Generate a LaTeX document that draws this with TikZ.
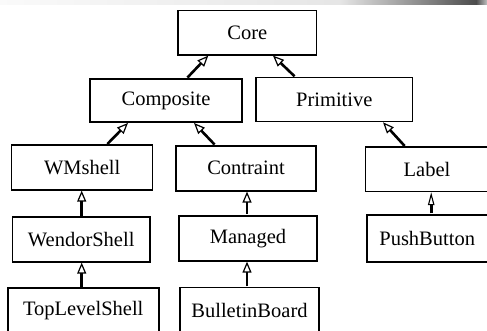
\documentclass[tikz,border=0pt]{standalone}
\usepackage{fontspec}
\setmainfont{Liberation Serif}
\usetikzlibrary{arrows.meta}
\tikzset{
  cls/.style={draw, line width=1.2pt, inner sep=0pt, fill=white,
    font=\fontsize{20.5}{24}\selectfont},
  clsthick/.style={cls, line width=1.9pt},
  inh/.style={line width=2.6pt, -{Triangle[open, length=11pt, width=9pt, line width=1.2pt]}, shorten <=0.6pt},
  inhsmall/.style={line width=2.6pt, -{Triangle[open, length=13pt, width=6.5pt, line width=1.1pt]}, shorten <=0.6pt}
}
\begin{document}
\begin{tikzpicture}[x=1pt, y=-1pt]
\useasboundingbox (0,0) rectangle (487,331);
\clip (0,0) rectangle (487,331);
\fill[white] (0,0) rectangle (487,331);
% top gradient bar
\shade[left color=gray!4, right color=gray!20] (0,0) rectangle (340,5);
\shade[left color=gray!20, right color=black!70] (340,0) rectangle (476,5);
\shade[left color=black!70, right color=gray!50] (476,0) rectangle (487,5);

\node[cls, minimum width=138.5pt, minimum height=44.3pt] (core) at (247.3,32.9) {Core};
\node[clsthick, minimum width=152pt, minimum height=43pt] (composite) at (166,100.5) {Composite};
\node[cls, minimum width=156.7pt, minimum height=44.4pt] (primitive) at (334.3,99.5) {Primitive};
\node[cls, minimum width=141pt, minimum height=45pt] (wmshell) at (82.2,167.5) {WMshell};
\node[clsthick, minimum width=140pt, minimum height=44.7pt] (contraint) at (246,168.3) {Contraint};
\node[cls, minimum width=122.6pt, minimum height=44.7pt] (label) at (427,169.3) {Label};
\node[cls, minimum width=137.7pt, minimum height=45pt] (wendor) at (81.2,239.5) {WendorShell};
\node[clsthick, minimum width=138pt, minimum height=45pt] (managed) at (248,238.2) {Managed};
\node[clsthick, minimum width=121pt, minimum height=47pt] (push) at (427.2,238.5) {PushButton};
\node[clsthick, minimum width=151pt, minimum height=45pt] (toplevel) at (83.2,310.8) {TopLevelShell};
\node[cls, line width=1.5pt, minimum width=139pt, minimum height=45pt] (bulletin) at (249.5,310.2) {BulletinBoard};

\draw[inh] ([xshift=21pt]composite.north) -- ([xshift=-39pt]core.south);
\draw[inh] ([xshift=-39.3pt]primitive.north) -- ([xshift=25.7pt]core.south);
\draw[inh] ([xshift=24.8pt]wmshell.north) -- ([xshift=-38pt]composite.south);
\draw[inh] ([xshift=-31pt]contraint.north) -- ([xshift=28pt]composite.south);
\draw[inh] ([xshift=-22pt]label.north) -- ([xshift=48.7pt]primitive.south);
\draw[inh] ([xshift=0.5pt]wendor.north) -- ([xshift=0.5pt]wendor.north |- wmshell.south);
\draw[inh] ([xshift=-1.5pt]toplevel.north) -- ([xshift=-1.5pt]toplevel.north |- wendor.south);
\draw[inh] ([xshift=-1pt]managed.north) -- ([xshift=-1pt]managed.north |- contraint.south);
\draw[inh] ([xshift=-1pt]managed.south |- bulletin.north) -- ([xshift=-1pt]managed.south);
\draw[inhsmall] ([xshift=4pt]push.north) -- ([xshift=4pt]push.north |- label.south);
\end{tikzpicture}
\end{document}
